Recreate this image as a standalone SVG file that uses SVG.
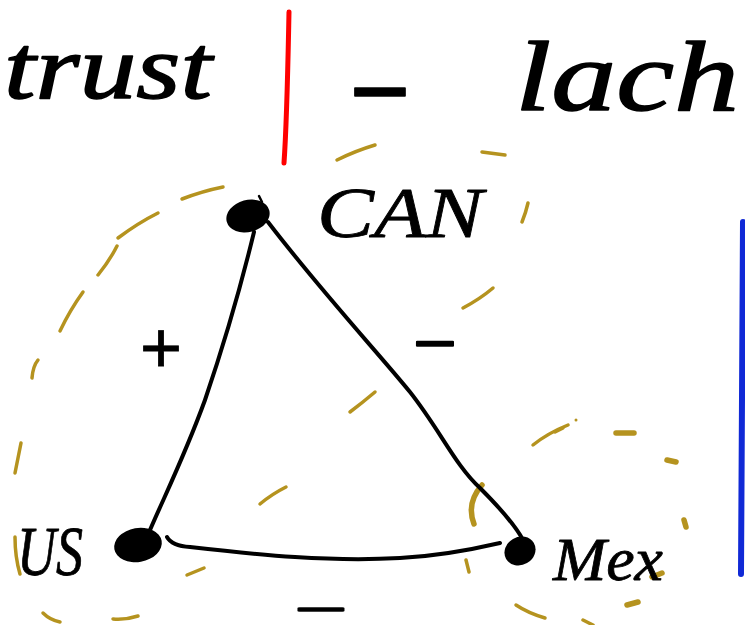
<svg xmlns="http://www.w3.org/2000/svg" width="745" height="625" viewBox="0 0 745 625">
<style>
.hw{font-family:"Liberation Serif","DejaVu Serif",serif;font-style:italic;fill:#000;stroke:#000;stroke-width:1.5;stroke-linejoin:round}
.lbl{stroke-width:0.8}
.dash{font-family:"Liberation Sans","DejaVu Sans",sans-serif;font-weight:bold;fill:#000;stroke:#000;stroke-width:1.5;stroke-linejoin:round}
.edge{fill:none;stroke:#000;stroke-width:4;stroke-linecap:round;stroke-linejoin:round}
.gold{fill:none;stroke:#b5931f;stroke-width:3.5;stroke-linecap:round}
.goldb{fill:none;stroke:#b5931f;stroke-width:5.5;stroke-linecap:round}
.blob{fill:#000}
</style>
<rect width="745" height="625" fill="#fff"/>
<g id="header">
<text class="hw" x="4" y="98" font-size="92" textLength="208" lengthAdjust="spacingAndGlyphs">trust</text>
<path d="M289,12 C288,60 287,120 284,163" fill="none" stroke="#ff0000" stroke-width="5" stroke-linecap="round"/>
<text class="dash" x="352" y="113" font-size="80" textLength="56" lengthAdjust="spacingAndGlyphs">–</text>
<text class="hw" x="515" y="110" font-size="100" textLength="224" lengthAdjust="spacingAndGlyphs">lach</text>
</g>
<g id="blue-bar">
<path d="M743,222 L741,574" fill="none" stroke="#1029d6" stroke-width="6" stroke-linecap="round"/>
</g>
<g id="group-outline-can-us">
<path class="gold" d="M337,160 Q355,151 375,145"/>
<path class="gold" d="M482,152 L505,155"/>
<path class="gold" d="M522,222 Q526,212 528,203"/>
<path class="gold" d="M463,308 Q480,299 493,288"/>
<path class="gold" d="M350,412 Q362,403 375,392"/>
<path class="gold" d="M260,504 Q272,494 286,487"/>
<path class="gold" d="M187,575 L204,568"/>
<path class="gold" d="M113,619 Q126,620 138,616"/>
<path class="gold" d="M43,613 Q50,620 60,622"/>
<path class="gold" d="M15,537 Q15,557 20,574"/>
<path class="gold" d="M15,473 L21,443"/>
<path class="gold" d="M32,378 Q33,366 38,360"/>
<path class="gold" d="M60,331 Q70,310 83,292"/>
<path class="gold" d="M98,275 Q110,260 117,246"/>
<path class="gold" d="M118,238 Q138,223 158,213"/>
<path class="gold" d="M182,199 Q203,191 223,187"/>
</g>
<g id="group-outline-mex">
<path class="goldb" d="M474,524 Q466,503 482,485"/>
<path class="gold" d="M466,560 L469,572"/>
<path class="gold" d="M516,605 Q528,613 545,618"/>
<path class="gold" d="M583,620 L593,625"/>
<path class="goldb" d="M627,605 L638,602"/>
<path class="goldb" d="M652,577 L662,573"/>
<path class="goldb" d="M684,520 L686,527"/>
<path class="goldb" d="M667,460 L676,462"/>
<path class="goldb" d="M616,433 L634,433"/>
<path class="gold" d="M533,445 Q548,433 568,425 M555,432 L563,428"/>
<circle cx="576" cy="420" r="1.5" fill="#b5931f"/>
</g>
<g id="connectors">
<path class="edge" d="M254,232 C240,290 222,350 205,400 C185,455 165,495 150,530"/>
<path class="edge" d="M268,222 C320,290 380,355 410,392 C440,430 455,465 480,488 C500,508 515,525 523,540"/>
<path class="edge" d="M167,537 Q172,546 190,547 C260,555 330,562 400,558 C440,556 470,550 500,543"/>
<text x="161" y="372" font-size="72" text-anchor="middle" font-family="Liberation Sans, DejaVu Sans, sans-serif" fill="#000" stroke="#000" stroke-width="0.8">+</text>
<text class="dash" x="415" y="356" font-size="44" textLength="40" lengthAdjust="spacingAndGlyphs">–</text>
<text class="dash" x="297" y="618" font-size="30" textLength="48" lengthAdjust="spacingAndGlyphs" stroke-width="2.5">–</text>
</g>
<g id="node-can">
<ellipse class="blob" cx="248" cy="216" rx="22" ry="16" transform="rotate(-15 248 216)"/>
<path d="M259,196 L262,202" stroke="#000" stroke-width="2.5" stroke-linecap="round"/>
<text class="hw lbl" x="317" y="237" font-size="72" textLength="166" lengthAdjust="spacingAndGlyphs">CAN</text>
</g>
<g id="node-us">
<ellipse class="blob" cx="138" cy="545" rx="24" ry="17" transform="rotate(-10 138 545)"/>
<text class="hw lbl" x="17" y="575" font-size="70" textLength="66" lengthAdjust="spacingAndGlyphs">US</text>
</g>
<g id="node-mex">
<ellipse class="blob" cx="520" cy="551" rx="16" ry="14" transform="rotate(-30 520 551)"/>
<text class="hw lbl" x="553" y="580" font-size="62" textLength="110" lengthAdjust="spacingAndGlyphs">Mex</text>
</g>
</svg>
